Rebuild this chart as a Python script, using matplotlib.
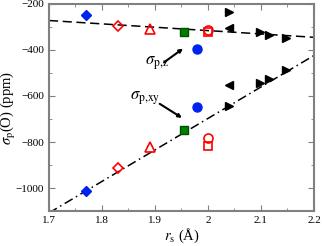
import numpy as np
import matplotlib
matplotlib.use('Agg')
import matplotlib.pyplot as plt
from matplotlib.ticker import MultipleLocator

plt.rcParams['font.family'] = ['Liberation Serif', 'DejaVu Serif']
plt.rcParams['mathtext.fontset'] = 'stix'

# sigma_p,z (upper) and sigma_p,xy (lower) points, grouped by marker
blue_d_x = [1.77];        blue_d_z = [-248];   blue_d_xy = [-1013]
red_d_x = [1.83];         red_d_z = [-295];    red_d_xy = [-912]
red_t_x = [1.89];         red_t_z = [-310];    red_t_xy = [-820]
green_s_x = [1.955];      green_s_z = [-320];  green_s_xy = [-746]
red_s_x = [2.0];          red_s_z = [-322];    red_s_xy = [-819]
red_c_x = [2.0];          red_c_z = [-314];    red_c_xy = [-781]
blue_c_x = [1.98];        blue_c_z = [-395];   blue_c_xy = [-647]
rt_x = [2.04, 2.098, 2.116, 2.148]
rt_z = [-236, -320, -333, -350]
rt_xy = [-643, -545, -527, -485]
lt_x = [2.04]
lt_z = [-305]
lt_xy = [-553]

# linear fits
fit_x = [1.7, 2.2]
fit_z = [-272, -345]
fit_xy = [-1108, -424]

fig = plt.figure(figsize=(3.22, 2.46), dpi=100)
ax = fig.add_axes([0.152, 0.142, 0.823, 0.842])

ax.plot(fit_x, fit_z, color='black', ls=(0, (6, 3)), lw=1.1)
ax.plot(fit_x, fit_xy, color='black', ls=(0, (6, 2.5, 1, 2.5)), lw=1.1)

for ys in ('z', 'xy'):
    g = globals()
    ax.plot(blue_d_x, g['blue_d_' + ys], 'D', color='#0022ee', ms=5)
    ax.plot(red_d_x, g['red_d_' + ys], 'D', mfc='none', mec='red', mew=1.2, ms=5.5)
    ax.plot(red_t_x, g['red_t_' + ys], '^', mfc='none', mec='red', mew=1.2, ms=7)
    ax.plot(green_s_x, g['green_s_' + ys], 's', color='#008000', mec='#005000', ms=6)
    ax.plot(red_s_x, g['red_s_' + ys], 's', mfc='none', mec='red', mew=1.2, ms=6)
    ax.plot(red_c_x, g['red_c_' + ys], 'o', mfc='none', mec='red', mew=1.2, ms=6.5)
    ax.plot(blue_c_x, g['blue_c_' + ys], 'o', color='#0022ee', ms=6.5)
    ax.plot(rt_x, g['rt_' + ys], '>', color='black', ms=6)
    ax.plot(lt_x, g['lt_' + ys], '<', color='black', ms=6)

ax.annotate('', xy=(1.953, -394), xytext=(1.917, -454),
            arrowprops=dict(arrowstyle='-|>', color='black', lw=1.5,
                            mutation_scale=5, shrinkA=0, shrinkB=0))
ax.annotate('', xy=(1.951, -695), xytext=(1.909, -634),
            arrowprops=dict(arrowstyle='-|>', color='black', lw=1.5,
                            mutation_scale=5, shrinkA=0, shrinkB=0))
ax.text(1.881, -462, r'$\sigma_{\rm p{,}z}$', fontsize=12)
ax.text(1.852, -615, r'$\sigma_{\rm p{,}xy}$', fontsize=12)

ax.set_xlim(1.7, 2.2)
ax.set_ylim(-1100, -200)
ax.xaxis.set_major_locator(MultipleLocator(0.1))
ax.xaxis.set_minor_locator(MultipleLocator(0.05))
ax.yaxis.set_major_locator(MultipleLocator(200))
ax.yaxis.set_minor_locator(MultipleLocator(100))
ax.set_xticks([1.7, 1.8, 1.9, 2.0, 2.1, 2.2])
ax.set_xticklabels(['1.7', '1.8', '1.9', '2', '2.1', '2.2'])
ax.tick_params(which='both', direction='in', top=True, right=True,
               color='#808080', labelsize=8)
ax.tick_params(which='major', length=4)
ax.tick_params(which='minor', length=2)
for s in ax.spines.values():
    s.set_color('#808080')
    s.set_linewidth(1.5)

ax.set_xlabel(r'$r_{\rm s}$ (Å)', fontsize=10.5, labelpad=1)
ax.set_ylabel(r'$\sigma_{\rm p}$(O) (ppm)', fontsize=10.5)
ax.yaxis.set_label_coords(-0.118, 0.5)

fig.savefig('out.png', dpi=100)
